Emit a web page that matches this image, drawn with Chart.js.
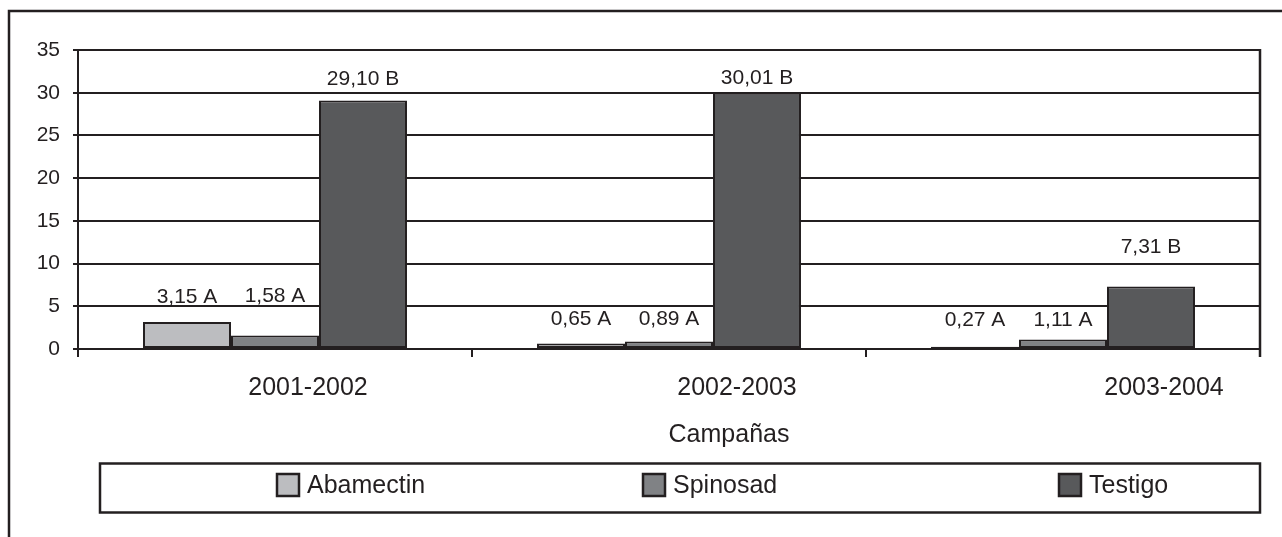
<!DOCTYPE html>
<html>
<head>
<meta charset="utf-8">
<script src="https://cdn.jsdelivr.net/npm/chart.js@4.4.1/dist/chart.umd.min.js"></script>
<style>
html,body{margin:0;padding:0;background:#fff;}
#c{display:block;}
</style>
</head>
<body>
<canvas id="c" width="1282" height="537"></canvas>
<script>
// ---- data ----
const categories = ['2001-2002', '2002-2003', '2003-2004'];
const seriesNames = ['Abamectin', 'Spinosad', 'Testigo'];
const abamectin = [3.15, 0.65, 0.27];
const spinosad = [1.58, 0.89, 1.11];
const testigo = [29.10, 30.01, 7.31];
const abamectinSig = ['A', 'A', 'A'];
const spinosadSig = ['A', 'A', 'A'];
const testigoSig = ['B', 'B', 'B'];
const yMin = 0, yMax = 35, yStep = 5;
const axisTitle = 'Campañas';

// ---- styles ----
const INK = '#231f20';
const FONT = "'Liberation Sans', Arial, sans-serif";
const colors = ['#bcbdc0', '#808285', '#58595b'];
const sigs = [abamectinSig, spinosadSig, testigoSig];
const values = [abamectin, spinosad, testigo];

const decorPlugin = {
  id: 'decor',
  afterDraw(chart, args, opts) {
    const ctx = chart.ctx;
    const ca = chart.chartArea;
    const x = chart.scales.x;
    ctx.save();
    // outer frame (top + left)
    ctx.strokeStyle = INK;
    ctx.lineWidth = 2.5;
    ctx.beginPath();
    ctx.moveTo(9, 537);
    ctx.lineTo(9, 11);
    ctx.lineTo(1282, 11);
    ctx.stroke();
    // right border of the plot
    ctx.lineWidth = 2.5;
    ctx.beginPath();
    ctx.moveTo(ca.right, ca.top - 1);
    ctx.lineTo(ca.right, ca.bottom + 8);
    ctx.stroke();

    // data labels
    ctx.fillStyle = INK;
    ctx.font = '21px ' + FONT;
    ctx.textAlign = 'center';
    ctx.textBaseline = 'middle';
    chart.data.datasets.forEach((ds, di) => {
      const meta = chart.getDatasetMeta(di);
      meta.data.forEach((bar, i) => {
        const v = ds.data[i];
        const txt = v.toFixed(2).replace('.', ',') + ' ' + sigs[di][i];
        ctx.fillText(txt, bar.x, bar.y + opts.labelDy[di][i]);
      });
    });

    // category labels
    ctx.font = '25px ' + FONT;
    categories.forEach((c, i) => {
      ctx.fillText(c, x.getPixelForValue(i) + opts.catDx[i], 388);
    });
    // axis title
    ctx.fillText(axisTitle, 729, 435);

    // legend box
    ctx.lineWidth = 2.5;
    ctx.strokeStyle = INK;
    ctx.strokeRect(100, 463.5, 1160, 49);
    ctx.textAlign = 'left';
    opts.legendX.forEach((lx, i) => {
      ctx.fillStyle = colors[i];
      ctx.fillRect(lx, 474, 22, 22);
      ctx.lineWidth = 2.5;
      ctx.strokeStyle = INK;
      ctx.strokeRect(lx, 474, 22, 22);
      ctx.fillStyle = INK;
      ctx.fillText(seriesNames[i], lx + 30, 486);
    });
    ctx.restore();
  }
};

new Chart(document.getElementById('c'), {
  type: 'bar',
  data: {
    labels: categories,
    datasets: seriesNames.map((n, i) => ({
      label: n,
      data: values[i],
      backgroundColor: colors[i],
      borderColor: INK,
      borderWidth: 2,
      borderSkipped: false,
      categoryPercentage: 0.67,
      barPercentage: 1.0
    }))
  },
  options: {
    responsive: false,
    animation: false,
    devicePixelRatio: 1,
    layout: { padding: { top: 50, right: 22, bottom: 0, left: 0 } },
    plugins: {
      legend: { display: false },
      tooltip: { enabled: false },
      decor: {
        labelDy: [[-25, -24, -26], [-39, -22, -19], [-21, -14, -39]],
        catDx: [33, 68, 101],
        legendX: [277, 643, 1059]
      }
    },
    scales: {
      x: {
        offset: true,
        grid: {
          display: true, drawOnChartArea: false, drawTicks: true,
          tickLength: 8, offset: true, color: INK, lineWidth: 2
        },
        border: { display: true, color: INK, width: 2 },
        ticks: { display: false },
        afterFit(scale) { scale.height = 537 - 349; }
      },
      y: {
        min: yMin, max: yMax,
        grid: { color: INK, lineWidth: 2, tickLength: 5, drawTicks: true },
        border: { display: true, color: INK, width: 2 },
        ticks: {
          stepSize: yStep, padding: 13, color: INK,
          font: { family: FONT, size: 21 }
        },
        afterFit(scale) { scale.width = 78; }
      }
    }
  },
  plugins: [decorPlugin]
});
</script>
</body>
</html>
